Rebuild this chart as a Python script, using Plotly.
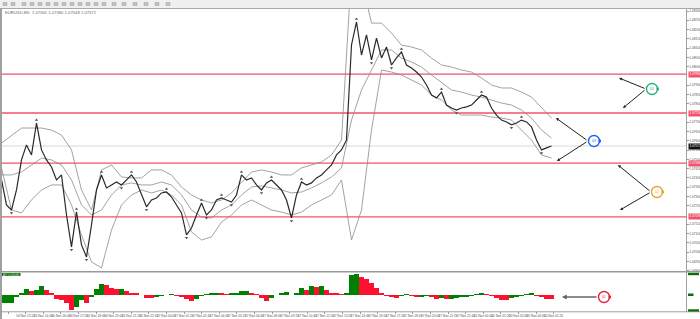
import plotly.graph_objects as go

# ---------------- data ----------------
close = [1.07389, 1.07254, 1.07227, 1.07335, 1.07497, 1.07578, 1.07524, 1.07696, 1.07551, 1.07497,
         1.07459, 1.07389, 1.07416, 1.07200, 1.07028, 1.07217, 1.07039, 1.06974, 1.07147, 1.07335,
         1.07416, 1.07346, 1.07362, 1.07378, 1.07362, 1.07389, 1.07416, 1.07378, 1.07308, 1.07244,
         1.07281, 1.07292, 1.07319, 1.07324, 1.07297, 1.07254, 1.07211, 1.07093, 1.07130, 1.07200,
         1.07265, 1.07200, 1.07227, 1.07281, 1.07292, 1.07281, 1.07270, 1.07308, 1.07416, 1.07389,
         1.07400, 1.07362, 1.07335, 1.07373, 1.07389, 1.07362, 1.07335, 1.07281, 1.07184, 1.07308,
         1.07378, 1.07362, 1.07373, 1.07400, 1.07416, 1.07443, 1.07470, 1.07524, 1.07551, 1.07605,
         1.08117, 1.08241, 1.08063, 1.08171, 1.08036, 1.08154, 1.08047, 1.08106, 1.08009, 1.08047,
         1.08079, 1.08009, 1.07993, 1.07971, 1.07944, 1.07901, 1.07847, 1.07831, 1.07863, 1.07793,
         1.07777, 1.07766, 1.07777, 1.07783, 1.07793, 1.07820, 1.07847, 1.07836, 1.07777, 1.07739,
         1.07712, 1.07702, 1.07686, 1.07696, 1.07712, 1.07702, 1.07675, 1.07605, 1.07551, 1.07562,
         1.07572]

band_upper = [1.07588, 1.07631, 1.07669, 1.07669, 1.07669, 1.07658, 1.07631, 1.07551, 1.07335, 1.07227,
              1.07443, 1.07470, 1.07405, 1.07400, 1.07400, 1.07443, 1.07443, 1.07416, 1.07351, 1.07308,
              1.07281, 1.07265, 1.07281, 1.07319, 1.07378, 1.07432, 1.07443, 1.07432, 1.07416, 1.07416,
              1.07454, 1.07470, 1.07486, 1.07524, 1.07604, 1.08521, 1.08467, 1.08235, 1.08235, 1.08181,
              1.08116, 1.08106, 1.08090, 1.08046, 1.08009, 1.07998, 1.07982, 1.07971, 1.07939, 1.07901,
              1.07885, 1.07885, 1.07863, 1.07836, 1.07777, 1.07723]

band_mid = [1.07416, 1.07416, 1.07432, 1.07470, 1.07507, 1.07497, 1.07470, 1.07389, 1.07254, 1.07200,
            1.07227, 1.07308, 1.07362, 1.07373, 1.07362, 1.07362, 1.07378, 1.07362, 1.07308, 1.07227,
            1.07189, 1.07184, 1.07227, 1.07254, 1.07308, 1.07351, 1.07357, 1.07346, 1.07335, 1.07319,
            1.07324, 1.07346, 1.07373, 1.07405, 1.07454, 1.07712, 1.07874, 1.07982, 1.08090, 1.08090,
            1.08046, 1.08025, 1.07998, 1.07955, 1.07912, 1.07874, 1.07863, 1.07847, 1.07836, 1.07820,
            1.07804, 1.07793, 1.07766, 1.07723, 1.07658, 1.07615]

band_lower = [1.07454, 1.07227, 1.07211, 1.07281, 1.07335, 1.07362, 1.07362, 1.07254, 1.07092, 1.06947,
              1.06915, 1.07119, 1.07254, 1.07308, 1.07335, 1.07319, 1.07335, 1.07308, 1.07254, 1.07109,
              1.07065, 1.07082, 1.07162, 1.07200, 1.07254, 1.07281, 1.07254, 1.07227, 1.07216, 1.07200,
              1.07216, 1.07254, 1.07281, 1.07308, 1.07389, 1.07065, 1.07227, 1.07658, 1.07982, 1.07971,
              1.07955, 1.07928, 1.07901, 1.07847, 1.07820, 1.07766, 1.07739, 1.07739, 1.07739, 1.07728,
              1.07723, 1.07712, 1.07658, 1.07604, 1.07524, 1.07507]

ao_points = [-42, -42, -42, -8, 8, 28, 20, 25, 45, 25,
             8, -22, -25, -42, -75, -58, -25, -38, -12, 28,
             53, 48, 35, 30, 30, 18, 10, 7, 0, -13,
             -15, -10, -5, 0, 2, -2, -12, -22, -32, -22,
             -5, 5, 8, 12, 8, 5, 8, 12, 18, 20,
             12, 3, -17, -30, -13, 0, 8, 17, 0, 8,
             33, 25, 45, 42, 45, 25, 12, 8, 3, 8,
             100, 103, 92, 78, 58, 33, 12, -5, -8, -15,
             -2, 3, -5, -8, -7, -5, -8, -22, -17, -20,
             -18, -15, -12, -7, -2, 3, 12, 5, -5, -13,
             -23, -25, -17, -10, -3, 2, 8, -2, -10, -18,
             -22]

levels = [1.0796, 1.0775, 1.0748, 1.0719]
bid_price = 1.07572

price_ticks = [1.0690, 1.0695, 1.0700, 1.0705, 1.0710, 1.0715, 1.0720, 1.0725, 1.0730, 1.0735,
               1.0740, 1.0745, 1.0750, 1.0755, 1.0760, 1.0765, 1.0770, 1.0775, 1.0780, 1.0785,
               1.0790, 1.0795, 1.0800, 1.0805, 1.0810, 1.0815, 1.0820, 1.0825, 1.0830]

time_labels = ["16 Nov 2023", "16 Nov 13:20", "16 Nov 14:40", "16 Nov 16:00", "16 Nov 17:20",
               "16 Nov 18:40", "16 Nov 20:00", "16 Nov 21:20", "16 Nov 22:40", "17 Nov 00:00",
               "17 Nov 01:20", "17 Nov 02:40", "17 Nov 04:00", "17 Nov 05:20", "17 Nov 06:40",
               "17 Nov 08:00", "17 Nov 09:20", "17 Nov 10:40", "17 Nov 12:00", "17 Nov 13:20",
               "17 Nov 14:40", "17 Nov 16:00", "17 Nov 17:20", "17 Nov 18:40", "17 Nov 20:00",
               "17 Nov 21:20", "17 Nov 22:40", "20 Nov 00:00", "20 Nov 01:20", "20 Nov 02:40",
               "20 Nov 04:00", "20 Nov 05:20"]

title_text = "EURUSD,M5  1.07561 1.07580 1.07548 1.07572"
ao_label = "AO 0.00046"

# ---------------- derived ----------------
bar_idx = list(range(len(close)))
band_idx = list(range(0, len(close), 2))[:len(band_mid)]
ao_colors = ["#008000" if i == 0 or ao_points[i] >= ao_points[i - 1] else "#ff1030"
             for i in range(len(ao_points))]

# tick labels hidden behind the coloured price labels
marks = levels + [bid_price]
shown_ticks = [v for v in price_ticks if min(abs(v - m) for m in marks) > 0.00017]

up_x, up_y, dn_x, dn_y = [], [], [], []
for i in range(2, len(close) - 2):
    win = close[i - 2:i + 3]
    if close[i] == max(win):
        up_x.append(i); up_y.append(close[i] + 0.00016)
    if close[i] == min(win):
        dn_x.append(i); dn_y.append(close[i] - 0.00016)

W, H = 700, 319
def py(p):  # pixel -> paper y
    return 1 - p / H

fig = go.Figure()

band_style = dict(color="#8a8a8a", width=0.8)
fig.add_trace(go.Scatter(x=band_idx, y=band_upper, mode="lines", line=band_style, xaxis="x", yaxis="y"))
fig.add_trace(go.Scatter(x=band_idx, y=band_mid, mode="lines", line=band_style, xaxis="x", yaxis="y"))
fig.add_trace(go.Scatter(x=band_idx, y=band_lower, mode="lines", line=band_style, xaxis="x", yaxis="y"))
fig.add_trace(go.Scatter(x=bar_idx, y=close, mode="lines", line=dict(color="#2a2a2a", width=1.2),
                         xaxis="x", yaxis="y"))
fig.add_trace(go.Scatter(x=up_x, y=up_y, mode="markers",
                         marker=dict(symbol="triangle-up", size=3, color="#555"), xaxis="x", yaxis="y"))
fig.add_trace(go.Scatter(x=dn_x, y=dn_y, mode="markers",
                         marker=dict(symbol="triangle-down", size=3, color="#555"), xaxis="x", yaxis="y"))

fig.add_trace(go.Bar(x=bar_idx, y=ao_points, marker=dict(color=ao_colors, line=dict(width=0)),
                     xaxis="x2", yaxis="y2"))

# invisible trace for overlay pixel axes
fig.add_trace(go.Scatter(x=[0], y=[0], mode="markers", marker=dict(opacity=0), xaxis="x3", yaxis="y3",
                         hoverinfo="skip"))

shapes = []
annotations = []

for lv in levels:
    shapes.append(dict(type="line", xref="x domain", yref="y", x0=0, x1=1, y0=lv, y1=lv,
                       line=dict(color="#f4506c", width=1.4), layer="below"))
shapes.append(dict(type="line", xref="x domain", yref="y", x0=0, x1=1, y0=bid_price, y1=bid_price,
                   line=dict(color="#d8d8d8", width=1), layer="below"))

P = dict(xref="x3", yref="y3")
# toolbar
shapes.append(dict(type="rect", x0=0, x1=700, y0=0, y1=8, fillcolor="#f0f0f0", line=dict(width=0), **P))
shapes.append(dict(type="line", x0=0, x1=700, y0=8.5, y1=8.5, line=dict(color="#a8a8a8", width=1), **P))
icon_x = [3, 11, 22, 30, 38, 46, 54, 62, 70, 78, 86, 94, 102, 112, 122, 133, 144, 155, 166]
for ix in icon_x:
    shapes.append(dict(type="rect", x0=ix, x1=ix + 4, y0=2.5, y1=5.5, fillcolor="#c4c4c4",
                       line=dict(color="#9a9a9a", width=0.5), **P))
# frame
shapes.append(dict(type="line", x0=1, x1=1, y0=9, y1=319, line=dict(color="#a0a0a0", width=2), **P))
shapes.append(dict(type="line", x0=686.5, x1=686.5, y0=9, y1=312, line=dict(color="#a0a0a0", width=1), **P))
shapes.append(dict(type="line", x0=0, x1=700, y0=271.8, y1=271.8, line=dict(color="#9a9a9a", width=1.5), **P))
shapes.append(dict(type="line", x0=0, x1=700, y0=311.8, y1=311.8, line=dict(color="#a0a0a0", width=1), **P))

lab_font = dict(size=3.3, color="white", family="Liberation Sans")
for lv in levels:
    annotations.append(dict(xref="x3", yref="y", x=687.5, y=lv, text="%.5f" % lv, showarrow=False,
                            font=lab_font, bgcolor="#f4506c", borderpad=0.4, xanchor="left"))
annotations.append(dict(xref="x3", yref="y", x=687.5, y=bid_price, text="%.5f" % bid_price, showarrow=False,
                        font=lab_font, bgcolor="#111111", borderpad=0.4, xanchor="left"))

# indicator right labels
shapes.append(dict(type="rect", x0=688, x1=699, y0=272.8, y1=275.2, fillcolor="#0a6e0a", line=dict(width=0), **P))
shapes.append(dict(type="rect", x0=688, x1=693.5, y0=293.5, y1=296, fillcolor="#0a6e0a", line=dict(width=0), **P))
shapes.append(dict(type="rect", x0=688, x1=699, y0=309.3, y1=311.6, fillcolor="#0a6e0a", line=dict(width=0), **P))
# indicator name
shapes.append(dict(type="rect", x0=2, x1=20.5, y0=273, y1=276, fillcolor="#0a6e0a", line=dict(width=0), **P))
annotations.append(dict(x=11, y=274.5, text=ao_label, showarrow=False,
                        font=dict(size=3, color="#cfe8cf", family="Liberation Sans"), **P))

annotations.append(dict(x=3, y=12.5, text=title_text, showarrow=False, xanchor="left",
                        font=dict(size=4.2, color="#6a6a6a", family="Liberation Sans"), **P))

circles = [(652, 89, "#2bb47a", "04"), (594, 141, "#1f5fff", "03"), (657, 192, "#f0a030", "02"),
           (604, 297, "#e8203c", "01")]
for cx, cy, col, t in circles:
    shapes.append(dict(type="circle", x0=cx - 5.5, x1=cx + 5.5, y0=cy - 5.5, y1=cy + 5.5,
                       fillcolor="white", line=dict(color=col, width=1.4), **P))
    shapes.append(dict(type="rect", x0=cx + 4.5, x1=cx + 7, y0=cy - 1.3, y1=cy + 1.3,
                       fillcolor=col, line=dict(width=0), **P))
    annotations.append(dict(x=cx, y=cy, text=t, showarrow=False,
                            font=dict(size=3.5, color=col, family="Liberation Sans"), **P))

arrows = [(646, 89, 619, 78), (646, 89, 623, 108),
          (588, 141, 556, 118), (588, 141, 557, 161),
          (651, 192, 618, 165), (651, 192, 620, 210),
          (598, 297, 562, 297)]
for tx, ty, hx, hy in arrows:
    col = "#666666" if ty == 297 else "#222222"
    wd = 1.6 if ty == 297 else 1.0
    annotations.append(dict(x=hx, y=hy, ax=tx, ay=ty, xref="x3", yref="y3", axref="x3", ayref="y3",
                            showarrow=True, arrowhead=2, arrowsize=0.6, arrowwidth=wd, arrowcolor=col,
                            text="", standoff=0, startstandoff=0))

x_ticks = [1.3 + 3.52 * k for k in range(len(time_labels))]

fig.update_layout(
    width=W, height=H,
    margin=dict(l=0, r=0, t=0, b=0, pad=0),
    paper_bgcolor="white",
    plot_bgcolor="rgba(0,0,0,0)",
    showlegend=False,
    bargap=0,
    shapes=shapes,
    annotations=annotations,
    xaxis=dict(domain=[0, 686 / W], range=[-0.3, 136.9], anchor="y", showticklabels=False,
               showgrid=False, zeroline=False, showline=False, fixedrange=True),
    yaxis=dict(domain=[py(271), py(9)], range=[1.06898, 1.08311], anchor="x", side="right",
               tickmode="array", tickvals=shown_ticks, ticktext=["%.5f" % v for v in shown_ticks],
               ticks="outside", ticklen=1.5, tickcolor="#999", tickwidth=0.6,
               tickfont=dict(size=3.3, color="#555", family="Liberation Sans"),
               showgrid=False, zeroline=False, showline=False, automargin=False),
    xaxis2=dict(domain=[0, 686 / W], matches="x", anchor="y2", tickmode="array", tickvals=x_ticks,
                ticktext=time_labels, ticks="outside", ticklen=1.5, tickcolor="#999",
                tickfont=dict(size=3.2, color="#555", family="Liberation Sans"), tickangle=0,
                showgrid=False, zeroline=False, showline=False, automargin=False),
    yaxis2=dict(domain=[py(311), py(272)], range=[-80, 115], anchor="x2", side="right",
                showticklabels=False, showgrid=False, zeroline=False, showline=False, automargin=False),
    xaxis3=dict(domain=[0, 1], range=[0, W], anchor="y3", visible=False, fixedrange=True),
    yaxis3=dict(domain=[0, 1], range=[H, 0], anchor="x3", visible=False, fixedrange=True),
)

fig.write_html("out.html")
